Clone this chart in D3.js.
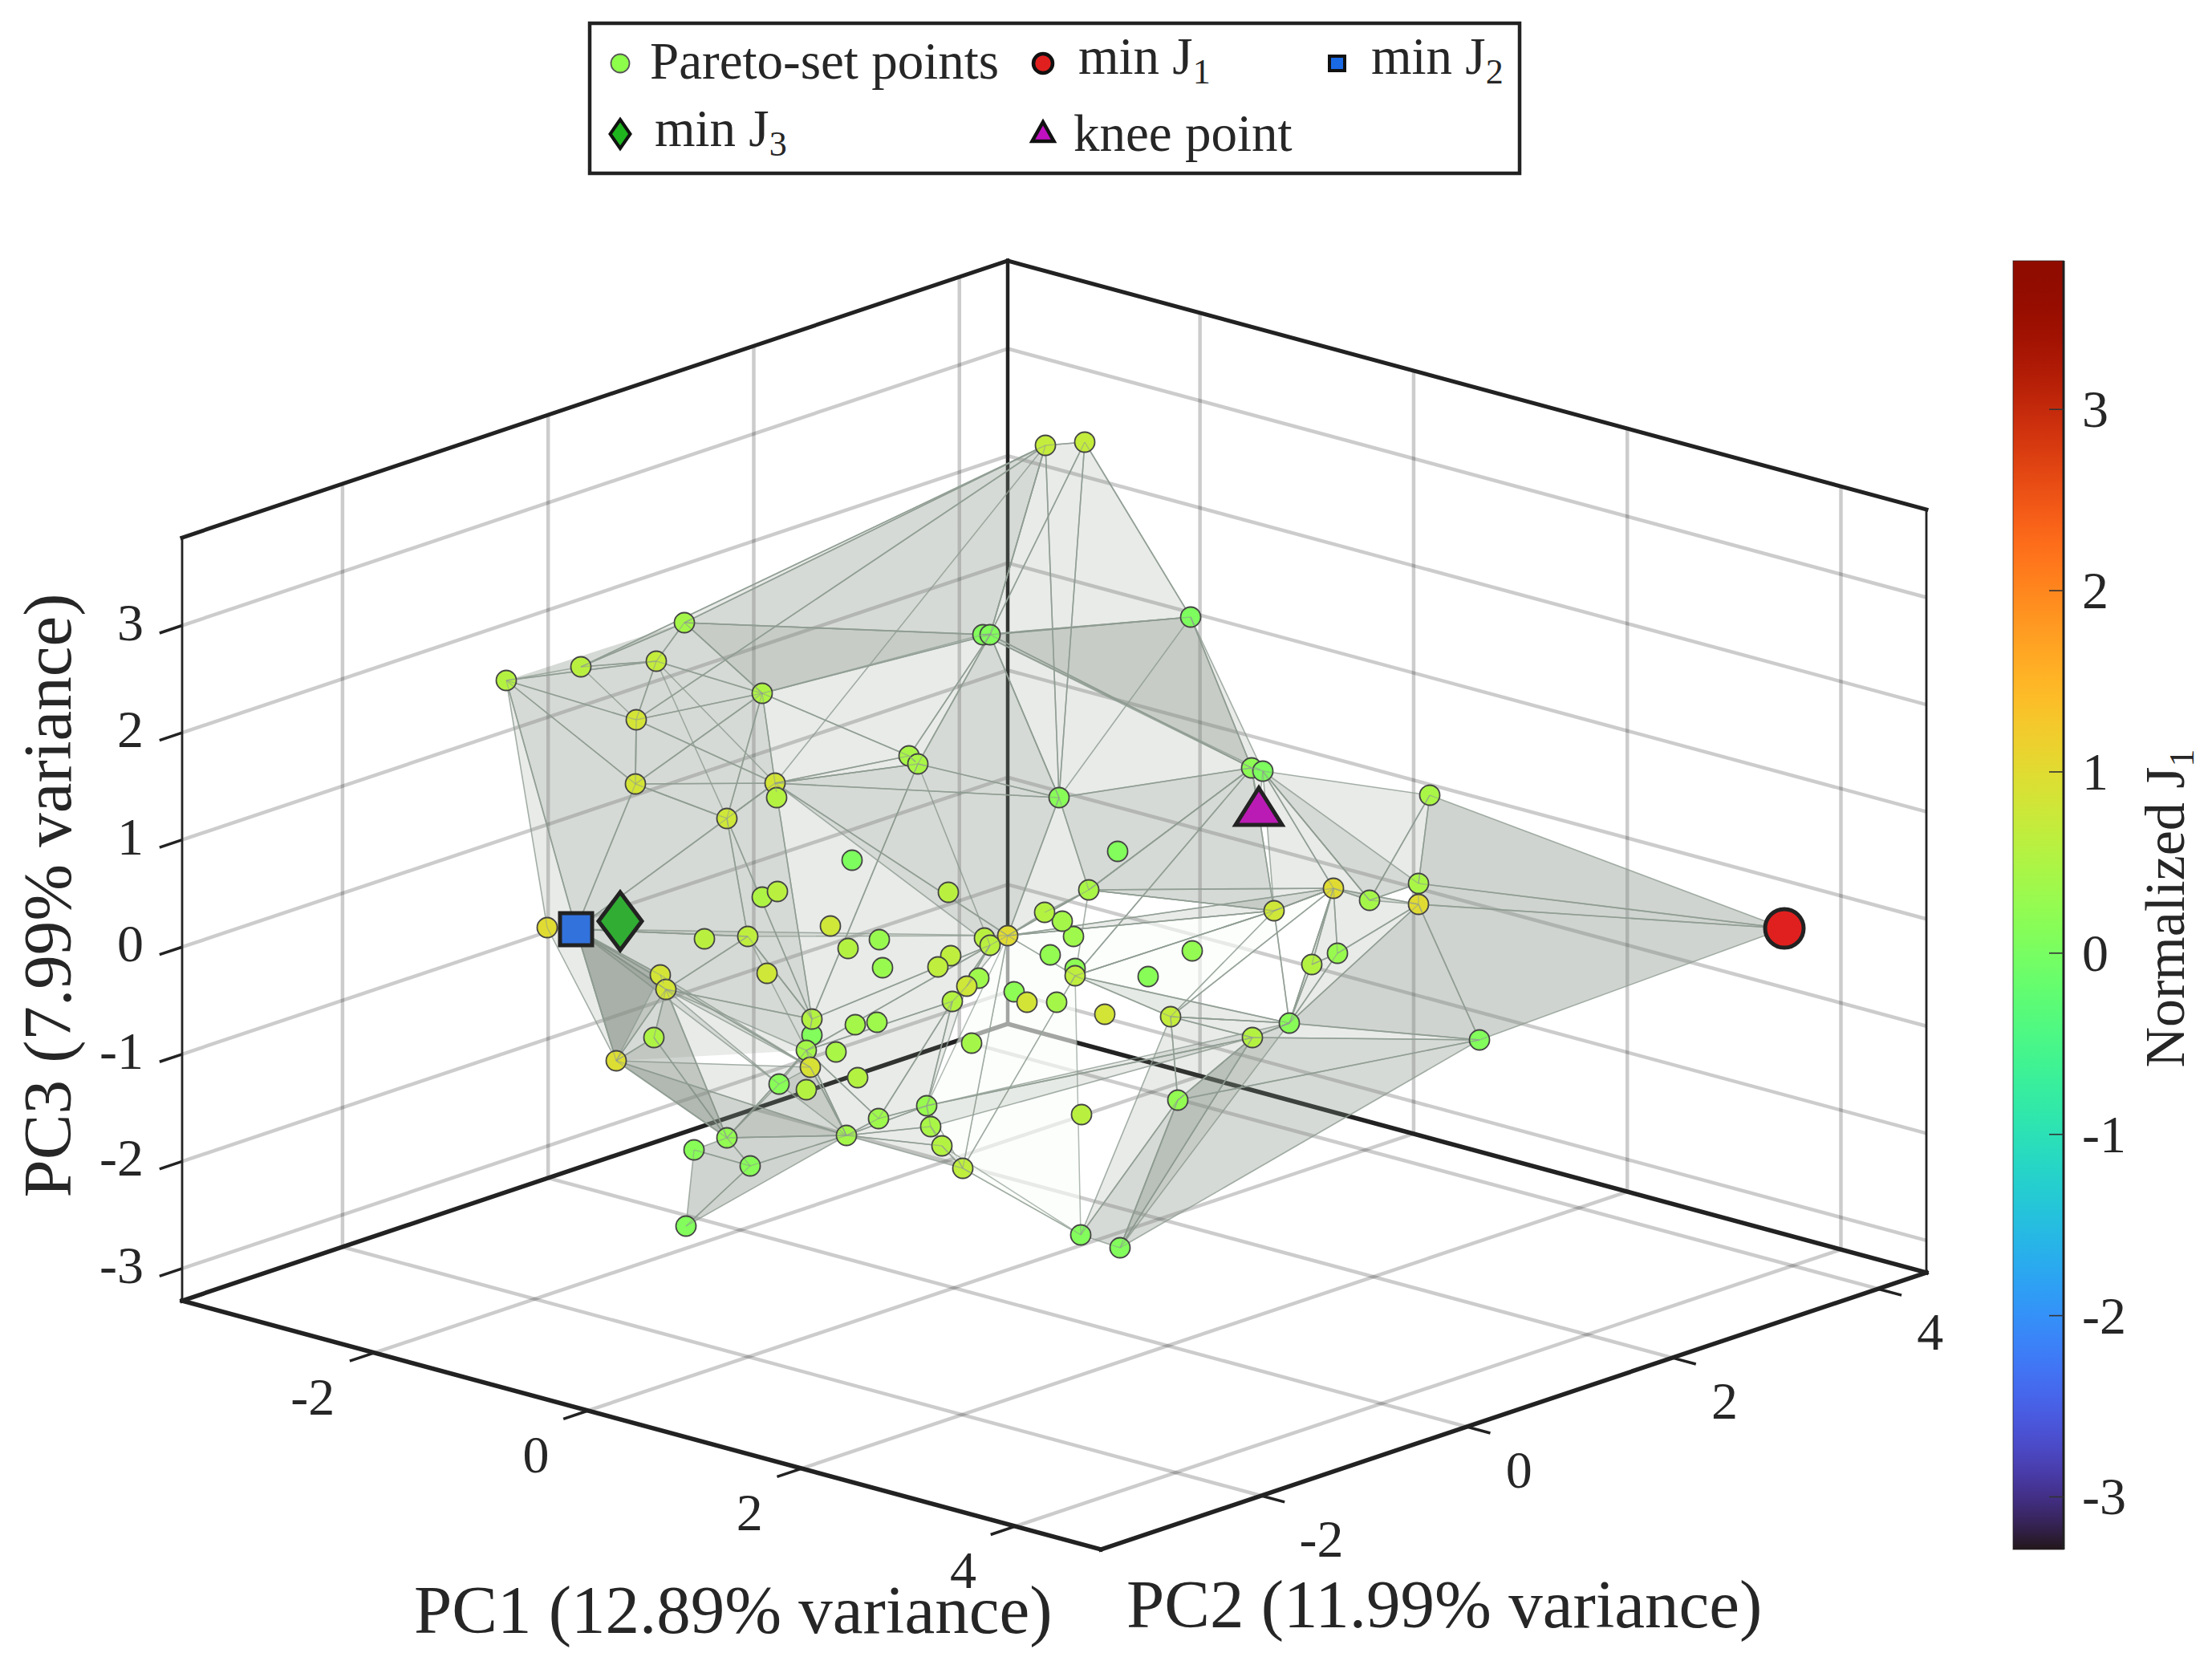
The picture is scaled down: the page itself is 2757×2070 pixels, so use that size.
<!DOCTYPE html>
<html>
<head>
<meta charset="utf-8">
<title>Pareto set in PC space</title>
<script src="https://cdnjs.cloudflare.com/ajax/libs/d3/7.8.5/d3.min.js"></script>
<style>
	html, body { margin: 0; padding: 0; background: #fff; }
	svg { display: block; }
	text { font-family: "Liberation Serif", serif; fill: #262626; }
</style>
</head>
<body>
<svg id="chart" width="2757" height="2070"></svg>
<script>
// axis limits and ticks
var pc1Lim = [-3.8, 4.8], pc2Lim = [-3.56, 4.47], pc3Lim = [-3.3, 3.82];
var pc1Ticks = [-2, 0, 2, 4], pc2Ticks = [-2, 0, 2, 4], pc3Ticks = [-3, -2, -1, 0, 1, 2, 3];
var cbarLim = [-3.29, 3.82];
var cbarTicks = [-3, -2, -1, 0, 1, 2, 3];

// The picture is a 3D view, so depth can't be read back: points are kept as
// where they fall inside the plot box (view units) plus their J1 colour value
var viewX = [404,497,591,626,998,1007,723,566,565,739,741,679,906,917,835,1076,1125,1093,1257,1333,1347,1555,1166,455,651,705,723,742,808,955,830,869,873,1000,1007,1029,958,942,993,978,960,1037,1053,1090,1150,1113,1113,1082,1111,1097,1075,1130,596,603,588,541,785,785,839,866,778,815,783,842,744,778,729,984,928,868,933,947,973,828,679,638,708,628,1120,1121,1169,1241,1232,1204,1259,1361,1435,1480,1541,1541,1440,1408,1380,1334,1617];
var viewY = [523,506,499,451,466,466,539,572,652,651,669,695,617,627,747,230,226,669,444,632,636,666,736,831,845,842,793,786,829,787,857,846,881,844,853,841,866,880,894,904,923,911,924,924,939,882,891,865,842,823,812,784,890,908,968,997,965,945,952,949,984,986,1005,1018,1026,1033,888,975,1053,1069,1079,1103,1131,1090,1093,1108,1128,1203,1214,1064,1230,1046,942,892,860,810,782,797,776,802,863,877,950,968,971];
var normJ1 = [.55,.6,.7,.4,.1,.1,.5,.85,.85,.85,.55,.8,.45,.45,.05,.7,.7,.15,.05,.2,.05,.45,.1,1,.6,.65,.5,.6,.8,.6,.55,.3,.3,.6,.6,1,.65,.65,.35,.8,.55,.2,.85,.4,.85,.2,.65,.25,.35,.4,.55,.45,.85,.85,.5,.95,.1,.55,.4,.35,.4,.45,.9,.55,.15,.55,.8,.4,.3,.35,.45,.55,.65,.4,.25,.15,.15,.1,.1,.6,.1,.25,.7,.15,.25,.8,1,.4,.45,1,.3,.55,.15,.55,.1];

// min J1, min J2, min J3, knee: surface indices 95, 96, 97, 98
var specialNames = ['min J1', 'min J2', 'min J3', 'knee'];
var specialX = [1997, 491, 546, 1342];
var specialY = [832, 833, 823, 680];

// surface faces, as indices into the point lists
// back layer: no edges, only deepens the tone of the panel behind
var backFaces = [
	[0,1,3],[3,15,6],[15,5,6],[0,3,6],[0,6,9],[0,9,57],[0,57,60],[0,60,55],[0,55,96],[13,34,35],[13,35,17],[5,13,17],
	[80,94,81],[81,93,94],[78,81,80],[81,93,80],[51,19,85],[51,19,17]
];
var grayFaces = [
	[0,1,2],[1,3,2],[0,2,7],[0,7,8],[0,8,96],[0,96,23],[2,3,6],[2,6,7],[7,6,8],[8,6,11],[8,11,96],[96,11,25],[1,3,15],
	[3,15,5],[3,5,6],[3,4,6],[6,5,12],[5,12,13],[5,13,17],[15,16,5],[6,12,9],[6,9,11],[12,13,9],[9,13,17],
	[5,16,18],[5,18,19],[4,18,19],[4,18,20],[5,19,17],
	[9,13,57],[13,57,34],[9,57,11],[9,34,35],[9,17,35],[11,25,57],[57,60,34],[60,34,40],[60,40,69],
	[96,25,53],[25,53,57],[53,57,60],[96,35,25],
	[96,53,62],[96,52,62],[96,53,64],[96,23,55],[55,54,53],[52,53,74],[55,73,62],[74,60,64],[74,60,73],[60,62,73],[62,73,64],
	[73,69,68],[73,68,70],[73,70,71],[73,71,72],[60,69,73],[40,68,69],[34,40,39],[39,40,68],[34,39,35],
	[68,92,93],[68,93,70],
	[46,82,92],[82,92,93],[78,82,81],[82,81,93],[78,81,80],[81,93,80],[81,93,94],[92,93,80],[92,93,94],[80,94,81],
	[86,92,91],[91,90,92],[90,89,92],[86,87,89],[86,90,89],[86,91,90],
	[35,85,86],[35,50,51],[51,19,85],[51,19,17],[35,51,17],[20,85,86],[20,86,87],[19,20,98],
	[20,21,87],[21,87,88],[20,87,88]
];
var darkFaces = [
	[21,95,88],[88,95,89],[89,94,95],[89,94,92],[75,77,76],[75,76,74],[74,76,73],[76,77,73],
	[55,54,74],[53,54,74],[55,74,73],[96,55,53],[96,55,52]
];
var paleFaces = [[35,46,72],[35,72,68],[68,70,72],[46,72,78],[72,78,71],[35,85,46],[46,85,82],[82,85,86]];
// edges of folds further back, seen through the surface
var wireFaces = [
	[1,7,15],[7,9,15],[7,8,9],[2,9,11],[8,9,11],[15,16,17],[5,17,15],[16,18,17],[25,57,60],
	[35,51,86],[35,51,85],[19,46,85],[19,51,46],[85,92,46],[85,86,92],[82,86,92],[51,85,86]
];

var svg = d3.select('#chart');
var W = 2757, H = 2070;

// plot box, orthographic view
var boxLeft = 227, boxTop = 325, boxW = 2174, boxH = 1605;
var su = d3.scaleLinear().domain(pc1Lim).range([0, 1]);
var sv = d3.scaleLinear().domain(pc2Lim).range([0, 1]);
var sw = d3.scaleLinear().domain(pc3Lim).range([0, 1]);
function project(a, b, c) {
	var u = su(a), v = sv(b), w = sw(c);
	return [227 + u * 1145 + v * 1029, 1621 + u * 310 - v * 345 - w * 951];
}
var viewXScale = d3.scaleLinear().domain([0, boxW]).range([boxLeft, boxLeft + boxW]);
var viewYScale = d3.scaleLinear().domain([0, boxH]).range([boxTop, boxTop + boxH]);

var color = d3.scaleSequential(d3.interpolateTurbo).domain(cbarLim);

function seg(g, p, q) {
	return g.append('line').attr('x1', p[0]).attr('y1', p[1]).attr('x2', q[0]).attr('y2', q[1]);
}

// grid on floor and two back walls
var grid = svg.append('g').attr('stroke', '#000').attr('stroke-opacity', 0.2).attr('stroke-width', 4.5);
pc1Ticks.forEach(function(t) {
	seg(grid, project(t, pc2Lim[0], pc3Lim[0]), project(t, pc2Lim[1], pc3Lim[0]));
	seg(grid, project(t, pc2Lim[1], pc3Lim[0]), project(t, pc2Lim[1], pc3Lim[1]));
});
pc2Ticks.forEach(function(t) {
	seg(grid, project(pc1Lim[0], t, pc3Lim[0]), project(pc1Lim[1], t, pc3Lim[0]));
	seg(grid, project(pc1Lim[0], t, pc3Lim[0]), project(pc1Lim[0], t, pc3Lim[1]));
});
pc3Ticks.forEach(function(t) {
	seg(grid, project(pc1Lim[0], pc2Lim[0], t), project(pc1Lim[0], pc2Lim[1], t));
	seg(grid, project(pc1Lim[0], pc2Lim[1], t), project(pc1Lim[1], pc2Lim[1], t));
});

// box edges
var edges = svg.append('g').attr('stroke', '#222').attr('stroke-linecap', 'square');
var lo1 = pc1Lim[0], hi1 = pc1Lim[1], lo2 = pc2Lim[0], hi2 = pc2Lim[1], lo3 = pc3Lim[0], hi3 = pc3Lim[1];
[
	[[lo1,lo2,lo3],[hi1,lo2,lo3],5.5], [[hi1,lo2,lo3],[hi1,hi2,lo3],5.5],
	[[lo1,lo2,lo3],[lo1,hi2,lo3],5.5], [[lo1,hi2,lo3],[hi1,hi2,lo3],5.5],
	[[lo1,lo2,hi3],[lo1,hi2,hi3],5], [[lo1,hi2,hi3],[hi1,hi2,hi3],5],
	[[lo1,lo2,lo3],[lo1,lo2,hi3],2.8], [[lo1,hi2,lo3],[lo1,hi2,hi3],4.5], [[hi1,hi2,lo3],[hi1,hi2,hi3],2.8]
].forEach(function(e) {
	seg(edges, project.apply(null, e[0]), project.apply(null, e[1])).attr('stroke-width', e[2]);
});

// ticks and tick labels
var tl = svg.append('g').attr('font-size', 66);
var tk = svg.append('g').attr('stroke', '#222').attr('stroke-width', 3.5);
pc1Ticks.forEach(function(t) {
	var p = project(t, lo2, lo3);
	seg(tk, p, project(t, lo2 - 0.24, lo3));
	tl.append('text').attr('x', p[0] - (t < 0 ? 77 : 65)).attr('y', p[1] + 77).attr('text-anchor', 'middle').text(t);
});
pc2Ticks.forEach(function(t) {
	var p = project(hi1, t, lo3);
	seg(tk, p, project(hi1 + 0.22, t, lo3));
	tl.append('text').attr('x', p[0] + (t < 0 ? 75 : 65)).attr('y', p[1] + 76).attr('text-anchor', 'middle').text(t);
});
pc3Ticks.forEach(function(t) {
	var p = project(lo1, lo2, t);
	seg(tk, p, project(lo1, lo2 - 0.22, t));
	tl.append('text').attr('x', p[0] - 48).attr('y', p[1] + 18).attr('text-anchor', 'end').text(t);
});

// axis titles
svg.append('text').attr('x', 516).attr('y', 2035).attr('font-size', 85).text('PC1 (12.89% variance)');
svg.append('text').attr('x', 1404).attr('y', 2028).attr('font-size', 85).text('PC2 (11.99% variance)');
svg.append('text').attr('transform', 'translate(88,1116) rotate(-90)').attr('text-anchor', 'middle')
	.attr('font-size', 85).text('PC3 (7.99% variance)');

// surface
var surfX = viewX.concat(specialX), surfY = viewY.concat(specialY);
function faceD(f) {
	return 'M' + f.map(function(i) { return viewXScale(surfX[i]) + ',' + viewYScale(surfY[i]); }).join('L') + 'Z';
}
var edgeColor = '#8f9c92';
svg.append('g').selectAll('path').data(paleFaces).enter().append('path')
	.attr('d', faceD)
	.attr('fill', 'rgb(250,253,250)').attr('fill-opacity', 0.6)
	.attr('stroke', edgeColor).attr('stroke-opacity', 0.7).attr('stroke-width', 1.5);
svg.append('g').selectAll('path').data(backFaces).enter().append('path')
	.attr('d', faceD)
	.attr('fill', 'rgb(125,135,125)').attr('fill-opacity', 0.17);
svg.append('g').selectAll('path').data(grayFaces).enter().append('path')
	.attr('d', faceD)
	.attr('fill', 'rgb(125,135,125)').attr('fill-opacity', 0.17)
	.attr('stroke', edgeColor).attr('stroke-opacity', 0.8).attr('stroke-width', 1.6);
svg.append('g').selectAll('path').data(darkFaces).enter().append('path')
	.attr('d', faceD)
	.attr('fill', 'rgb(125,135,125)').attr('fill-opacity', 0.36)
	.attr('stroke', edgeColor).attr('stroke-opacity', 0.8).attr('stroke-width', 1.6);
svg.append('g').selectAll('path').data(wireFaces).enter().append('path')
	.attr('d', faceD)
	.attr('fill', 'none')
	.attr('stroke', edgeColor).attr('stroke-opacity', 0.8).attr('stroke-width', 1.6);

// pareto points
svg.append('g').selectAll('circle').data(viewX).enter().append('circle')
	.attr('cx', function(d) { return viewXScale(d); })
	.attr('cy', function(d, i) { return viewYScale(viewY[i]); })
	.attr('r', 12.5)
	.attr('fill', function(d, i) { return color(normJ1[i]); })
	.attr('stroke', '#444').attr('stroke-width', 1.8);

// short bits of the surface edges showing on top of the points they end at
var spurs = svg.append('g').attr('stroke', edgeColor).attr('stroke-opacity', 0.55).attr('stroke-width', 1.4);
grayFaces.concat(darkFaces, paleFaces).forEach(function(f) {
	f.forEach(function(i, k) {
		if (i >= viewX.length) return;
		var j = f[(k + 1) % 3];
		var dx = surfX[j] - surfX[i], dy = surfY[j] - surfY[i], len = Math.hypot(dx, dy) || 1;
		seg(spurs, [viewXScale(surfX[i]), viewYScale(surfY[i])],
			[viewXScale(surfX[i] + dx / len * 11), viewYScale(surfY[i] + dy / len * 11)]);
	});
});

// marker shapes, shared with the legend
function diamondPath(w, h) { return 'M0,' + (-h/2) + 'L' + (w/2) + ',0L0,' + (h/2) + 'L' + (-w/2) + ',0Z'; }
function trianglePath(w, h) { return 'M0,' + (-h/2) + 'L' + (w/2) + ',' + (h/2) + 'L' + (-w/2) + ',' + (h/2) + 'Z'; }

var sp = svg.append('g').attr('stroke', '#222');
function spAt(i) { return 'translate(' + viewXScale(specialX[i]) + ',' + viewYScale(specialY[i]) + ')'; }
sp.append('circle').attr('transform', spAt(0)).attr('r', 24).attr('fill', '#e0201f').attr('stroke-width', 5);
sp.append('rect').attr('transform', spAt(1)).attr('x', -20).attr('y', -20).attr('width', 40).attr('height', 40)
	.attr('fill', '#3272dc').attr('stroke-width', 5);
sp.append('path').attr('transform', spAt(2)).attr('d', diamondPath(54, 72)).attr('fill', '#31ad33').attr('stroke-width', 5);
sp.append('path').attr('transform', spAt(3)).attr('d', trianglePath(58, 46)).attr('fill', '#bb1bb5').attr('stroke-width', 5);

// colorbar
var cbarX = 2509, cbarW = 63, cbarTop = 325, cbarBottom = 1931;
var cy = d3.scaleLinear().domain(cbarLim).range([cbarBottom, cbarTop]);
var grad = svg.append('defs').append('linearGradient').attr('id', 'turbo')
	.attr('x1', 0).attr('x2', 0).attr('y1', 1).attr('y2', 0);
d3.range(0, 1.001, 0.02).forEach(function(t) {
	grad.append('stop').attr('offset', t).attr('stop-color', d3.interpolateTurbo(t));
});
svg.append('rect').attr('x', cbarX).attr('y', cbarTop).attr('width', cbarW).attr('height', cbarBottom - cbarTop)
	.attr('fill', 'url(#turbo)');
svg.append('line').attr('x1', cbarX + cbarW).attr('x2', cbarX + cbarW).attr('y1', cbarTop).attr('y2', cbarBottom)
	.attr('stroke', '#222').attr('stroke-width', 3);
svg.append('rect').attr('x', cbarX).attr('y', cbarTop).attr('width', cbarW).attr('height', cbarBottom - cbarTop)
	.attr('fill', 'none').attr('stroke', '#222').attr('stroke-opacity', 0.6).attr('stroke-width', 1.2);
cbarTicks.forEach(function(t) {
	svg.append('line').attr('x1', cbarX + cbarW - 18).attr('x2', cbarX + cbarW).attr('y1', cy(t)).attr('y2', cy(t))
		.attr('stroke', '#333').attr('stroke-width', 1.6);
	svg.append('text').attr('x', 2595).attr('y', cy(t) + 22).attr('font-size', 66).text(t);
});
var cbt = svg.append('text').attr('transform', 'translate(2722,1132) rotate(-90)').attr('text-anchor', 'middle').attr('font-size', 70);
cbt.append('tspan').text('Normalized J');
cbt.append('tspan').attr('font-size', 44).attr('dy', 12).text('1');

// legend
var lg = svg.append('g');
lg.append('rect').attr('x', 735).attr('y', 29).attr('width', 1159).attr('height', 187)
	.attr('fill', '#fff').attr('stroke', '#222').attr('stroke-width', 4.5);
lg.append('circle').attr('cx', 773).attr('cy', 79).attr('r', 11.5).attr('fill', '#8dff4a').attr('stroke', '#555').attr('stroke-width', 1.8);
lg.append('circle').attr('cx', 1300).attr('cy', 79).attr('r', 12).attr('fill', '#e0201f').attr('stroke', '#111').attr('stroke-width', 4.5);
lg.append('rect').attr('x', 1657).attr('y', 70).attr('width', 19).attr('height', 18).attr('fill', '#1a6ae6').attr('stroke', '#111').attr('stroke-width', 4);
lg.append('path').attr('transform', 'translate(773,167)').attr('d', diamondPath(25, 36)).attr('fill', '#1fb51f').attr('stroke', '#111').attr('stroke-width', 4);
lg.append('path').attr('transform', 'translate(1300,164)').attr('d', trianglePath(27, 24)).attr('fill', '#c010c0').attr('stroke', '#111').attr('stroke-width', 4.5);

function legendLabel(x, y, main, sub) {
	var t = lg.append('text').attr('x', x).attr('y', y).attr('font-size', 65);
	t.append('tspan').text(main);
	if (sub) t.append('tspan').attr('font-size', 44).attr('dy', 12).text(sub);
}
legendLabel(810, 98, 'Pareto-set points');
legendLabel(1344, 92, 'min J', '1');
legendLabel(1709, 92, 'min J', '2');
legendLabel(816, 182, 'min J', '3');
legendLabel(1338, 188, 'knee point');
</script>
</body>
</html>
